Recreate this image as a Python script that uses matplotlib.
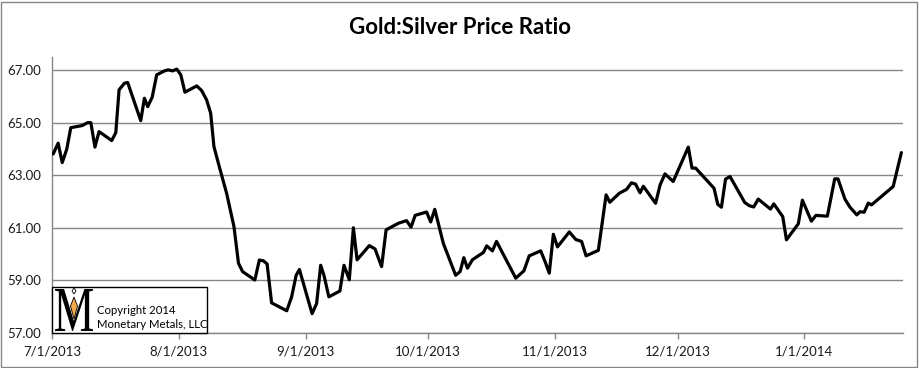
import matplotlib
matplotlib.use("Agg")
import matplotlib.pyplot as plt
import pandas as pd
from matplotlib.textpath import TextPath
from matplotlib.patches import PathPatch, Rectangle, Polygon
from matplotlib.font_manager import FontProperties
from matplotlib.transforms import Affine2D

# ---- data ----
start_date = "2013-07-01"
# days since start_date for each point
day_offsets = [0.3, 1.5, 2.5, 3.6, 4.6, 7.4, 8.7, 9.5, 10.5, 11.5, 14.6, 15.6, 16.4, 17.7, 18.5,
               21.7, 22.6, 23.4, 24.5, 25.6, 27.5, 28.4, 29.5, 30.5, 31.5, 32.5, 35.4, 36.6, 37.8,
               38.8, 39.6, 40.9, 42.7, 44.5, 45.6, 46.6, 49.6, 50.7, 51.7, 52.6, 53.7, 57.4, 58.6,
               59.7, 60.5, 63.6, 64.7, 65.7, 66.5, 67.7, 70.4, 71.4, 72.7, 73.7, 74.6, 77.6, 79.0,
               80.6, 81.7, 84.7, 86.7, 87.8, 88.8, 91.6, 92.6, 93.6, 95.7, 98.7, 99.8, 100.7, 101.6,
               102.8, 105.5, 106.3, 107.7, 108.7, 113.4, 115.4, 116.7, 119.5, 120.5, 121.6, 122.6,
               123.6, 126.5, 128.1, 129.5, 130.6, 133.6, 135.5, 136.4, 138.7, 140.5, 141.7, 142.7,
               143.8, 144.6, 147.6, 148.7, 149.9, 151.9, 155.6, 156.5, 157.4, 161.9, 162.8, 163.7,
               164.7, 165.8, 169.4, 170.5, 171.6, 172.7, 175.7, 176.5, 178.7, 179.6, 182.5, 183.5,
               185.7, 186.8, 189.6, 191.4, 192.2, 193.9, 195.1, 196.8, 197.6, 198.6, 199.6, 200.4,
               205.7, 207.7]
ratio = [63.81, 64.22, 63.48, 63.99, 64.81, 64.89, 65.00, 65.00, 64.07, 64.66, 64.32, 64.62, 66.25,
         66.50, 66.53, 65.08, 65.93, 65.61, 65.97, 66.82, 66.97, 67.01, 66.97, 67.04, 66.82, 66.16,
         66.40, 66.22, 65.87, 65.36, 64.09, 63.33, 62.31, 61.04, 59.65, 59.33, 59.01, 59.77, 59.74,
         59.62, 58.14, 57.84, 58.37, 59.19, 59.41, 57.73, 58.11, 59.57, 59.19, 58.37, 58.59, 59.57,
         59.02, 61.00, 59.78, 60.32, 60.19, 59.52, 60.92, 61.17, 61.27, 61.02, 61.47, 61.60, 61.22,
         61.70, 60.40, 59.19, 59.33, 59.86, 59.46, 59.78, 60.06, 60.31, 60.12, 60.48, 59.08, 59.36,
         59.93, 60.12, 59.74, 59.27, 60.75, 60.27, 60.84, 60.55, 60.48, 59.93, 60.14, 62.25, 61.97,
         62.31, 62.46, 62.71, 62.66, 62.33, 62.58, 61.93, 62.63, 63.05, 62.76, 64.07, 63.27, 63.27,
         62.50, 61.89, 61.78, 62.85, 62.95, 61.96, 61.84, 61.79, 62.09, 61.71, 61.91, 61.42, 60.54,
         61.15, 62.05, 61.25, 61.47, 61.44, 62.86, 62.86, 62.09, 61.79, 61.49, 61.61, 61.59, 61.94,
         61.87, 62.57, 63.86]
x_tick_dates = ["2013-07-01", "2013-08-01", "2013-09-01", "2013-10-01", "2013-11-01",
                "2013-12-01", "2014-01-01"]
x_tick_labels = ["7/1/2013", "8/1/2013", "9/1/2013", "10/1/2013", "11/1/2013",
                 "12/1/2013", "1/1/2014"]
y_ticks = [57, 59, 61, 63, 65, 67]
y_tick_labels = ["57.00", "59.00", "61.00", "63.00", "65.00", "67.00"]
title = "Gold:Silver Price Ratio"
copyright_lines = ["Copyright 2014", "Monetary Metals, LLC"]

plt.rcParams["font.family"] = ["Lato", "DejaVu Sans"]

W, H = 920, 368
fig = plt.figure(figsize=(W / 100, H / 100), dpi=100)
fig.patch.set_facecolor("white")

ax_l, ax_r, ax_t, ax_b = 52, 903, 57, 332.8
ax = fig.add_axes([ax_l / W, 1 - ax_b / H, (ax_r - ax_l) / W, (ax_b - ax_t) / H])

start = pd.Timestamp(start_date)
dates = start + pd.to_timedelta(day_offsets, unit="D")
ax.plot(dates, ratio, color="black", lw=2.3, solid_joinstyle="round",
        solid_capstyle="round", zorder=3)

ax.set_xlim(start, start + pd.Timedelta(days=208.1))
ax.set_ylim(57, 67.5)
ax.set_yticks(y_ticks)
ax.set_yticklabels(y_tick_labels)
ax.set_xticks(pd.to_datetime(x_tick_dates))
ax.set_xticklabels(x_tick_labels)

grid_c = "#868686"
ax.grid(axis="y", color=grid_c, lw=1)
ax.set_axisbelow(True)
for s in ("top", "right"):
    ax.spines[s].set_visible(False)
for s in ("left", "bottom"):
    ax.spines[s].set_color(grid_c)
    ax.spines[s].set_linewidth(1)
ax.tick_params(axis="y", length=0, pad=8, labelsize=9.5, labelcolor="#1a1a1a")
ax.tick_params(axis="x", length=4, width=1, color=grid_c, direction="out", pad=5,
               labelsize=9.5, labelcolor="#1a1a1a")

fig.text(0.5, 1 - 27 / H, title, ha="center", va="center", fontsize=16,
         fontweight="bold", color="black")

# outer chart border
fig.patches.append(Rectangle((1.5 / W, 1.5 / H), (917 - 1.5) / W, (366 - 1.5) / H,
                             transform=fig.transFigure, fill=False, edgecolor=grid_c, lw=1))

# copyright box
bx0, bx1, by0, by1 = 52, 207, 287, 332.8
pix = Affine2D().scale(1 / W, 1 / H) + fig.transFigure
fig.patches.append(Rectangle((bx0, H - by1), bx1 - bx0, by1 - by0, transform=pix,
                             facecolor="white", edgecolor="black", lw=1, zorder=5))
# logo "M"
tp = TextPath((0, 0), "M", prop=FontProperties(family="Liberation Serif"), size=50)
ext = tp.get_extents()
mx0, mx1, my0, my1 = 55, 93, 289, 331
tr = (Affine2D().translate(-ext.x0, -ext.y0)
      .scale((mx1 - mx0) / ext.width, (my1 - my0) / ext.height)
      .translate(mx0, H - my1))
fig.patches.append(PathPatch(tr.transform_path(tp), transform=pix, facecolor="black",
                             edgecolor="none", zorder=6))
fig.patches.append(Polygon([(74, H - 297), (77.5, H - 306), (74, H - 319), (70.5, H - 306)],
                           closed=True, transform=pix, facecolor="#f4a64a",
                           edgecolor="black", lw=0.6, zorder=7))
fig.patches.append(Polygon([(74, H - 288), (76, H - 291), (74, H - 294), (72, H - 291)],
                           closed=True, transform=pix, facecolor="white",
                           edgecolor="black", lw=0.6, zorder=7))
fig.text(97 / W, 1 - 310 / H, copyright_lines[0], ha="left", va="center", fontsize=8.2,
         color="black", zorder=8)
fig.text(97 / W, 1 - 325 / H, copyright_lines[1], ha="left", va="center", fontsize=8.2,
         color="black", zorder=8)

fig.savefig("out.png", dpi=100, facecolor="white")
